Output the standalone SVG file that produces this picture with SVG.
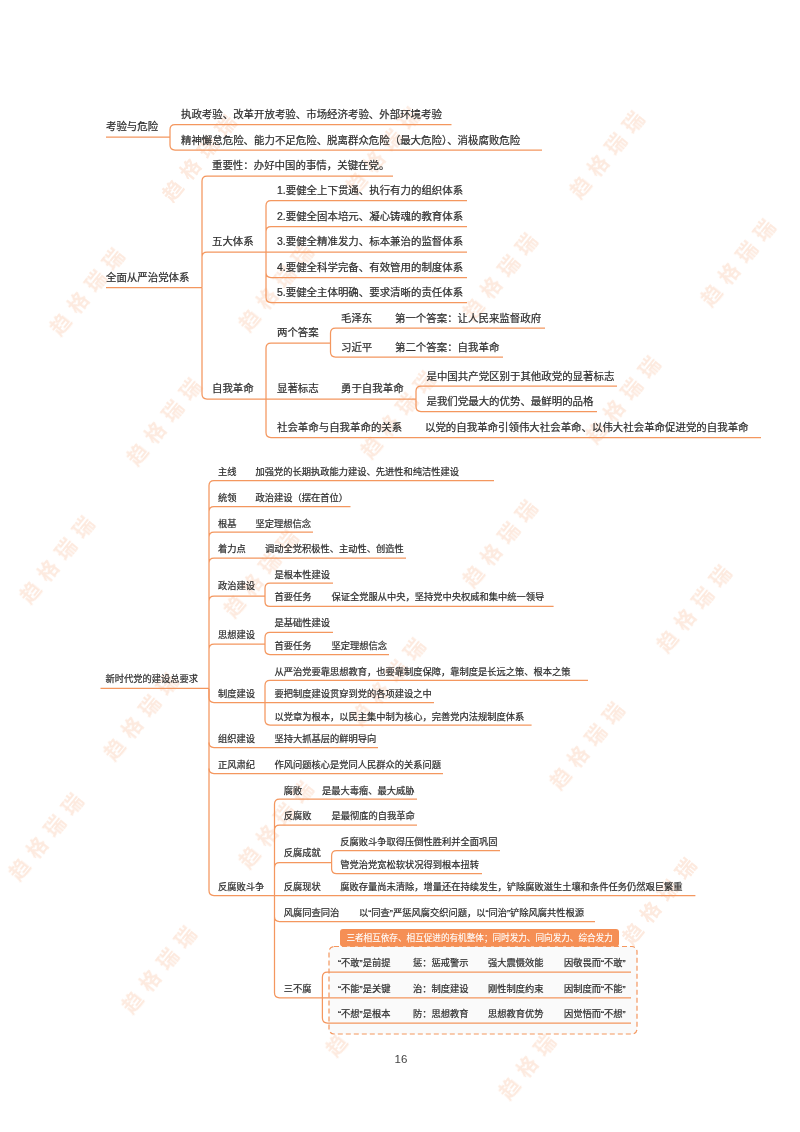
<svg xmlns="http://www.w3.org/2000/svg" width="800" height="1132" viewBox="0 0 800 1132">
<style>
text{font-family:"Liberation Sans","Noto Sans CJK SC",sans-serif;font-size:9.25px;fill:#2e2e2e;stroke:#2e2e2e;stroke-width:.22}
.s1 text{font-size:10.45px}
.c path{fill:none;stroke:#f4975f;stroke-width:1.25}
.w text{font-family:"Noto Sans CJK SC",sans-serif;font-size:20px;letter-spacing:8px;fill:#fdeadf;stroke:none;font-weight:700}
.b{fill:#f58f55}
.d{fill:#fafafa;stroke:#f4975f;stroke-width:1.2;stroke-dasharray:5 3}
</style>
<defs><filter id="soft" filterUnits="userSpaceOnUse" x="0" y="0" width="800" height="1132"><feGaussianBlur stdDeviation="0.3"/></filter></defs>
<rect width="800" height="1132" fill="#fff"/>
<g filter="url(#soft)">
<g id="watermarks" class="w">
<text x="-10" y="7" transform="translate(173,191) rotate(-51)">趋格瑞瑞</text>
<text x="-10" y="7" transform="translate(581,188) rotate(-51)">趋格瑞瑞</text>
<text x="-10" y="7" transform="translate(712,296) rotate(-51)">趋格瑞瑞</text>
<text x="-10" y="7" transform="translate(61,325) rotate(-51)">趋格瑞瑞</text>
<text x="-10" y="7" transform="translate(250,321) rotate(-51)">趋格瑞瑞</text>
<text x="-10" y="7" transform="translate(474,310) rotate(-51)">趋格瑞瑞</text>
<text x="-10" y="7" transform="translate(357,184) rotate(-51)">趋格瑞瑞</text>
<text x="-10" y="7" transform="translate(138,455) rotate(-51)">趋格瑞瑞</text>
<text x="-10" y="7" transform="translate(372,448) rotate(-51)">趋格瑞瑞</text>
<text x="-10" y="7" transform="translate(597,433) rotate(-51)">趋格瑞瑞</text>
<text x="-10" y="7" transform="translate(31,593) rotate(-51)">趋格瑞瑞</text>
<text x="-10" y="7" transform="translate(235,607) rotate(-51)">趋格瑞瑞</text>
<text x="-10" y="7" transform="translate(474,577) rotate(-51)">趋格瑞瑞</text>
<text x="-10" y="7" transform="translate(668,642) rotate(-51)">趋格瑞瑞</text>
<text x="-10" y="7" transform="translate(20,870) rotate(-51)">趋格瑞瑞</text>
<text x="-10" y="7" transform="translate(115,750) rotate(-51)">趋格瑞瑞</text>
<text x="-10" y="7" transform="translate(250,858) rotate(-51)">趋格瑞瑞</text>
<text x="-10" y="7" transform="translate(362,715) rotate(-51)">趋格瑞瑞</text>
<text x="-10" y="7" transform="translate(561,779) rotate(-51)">趋格瑞瑞</text>
<text x="-10" y="7" transform="translate(133,1003) rotate(-51)">趋格瑞瑞</text>
<text x="-10" y="7" transform="translate(337,1046) rotate(-51)">趋格瑞瑞</text>
<text x="-10" y="7" transform="translate(510,1089) rotate(-51)">趋格瑞瑞</text>
<text x="-10" y="7" transform="translate(633,934) rotate(-51)">趋格瑞瑞</text>
</g>
<g id="box-fill"><rect class="d" x="329" y="946.5" width="308" height="87.5" rx="5"/><rect class="b" x="340" y="929" width="279" height="17.5" rx="3"/></g>
<g class="c" id="connectors">
<path d="M106 137H170M170 137V129.5Q170 124.5 175 124.5H451.5M170 137V145Q170 150 175 150H542"/>
<path d="M106 287.5H202M202 287.5V181Q202 176 207 176H393M202 287.5V257Q202 252 207 252H266M266 252V205.5Q266 200.5 271 200.5H467M266 252V231.5Q266 226.5 271 226.5H467M266 252H467M266 252V272.5Q266 277.5 271 277.5H467M266 252V297.5Q266 302.5 271 302.5H467"/>
<path d="M202 287.5V394Q202 399 207 399H416M266 399V348Q266 343 271 343H330.5M266 399V432.5Q266 437.5 271 437.5H761M330.5 343V333Q330.5 328 335.5 328H545M330.5 343V352Q330.5 357 335.5 357H503M416 399V391Q416 386 421 386H617M416 399V406.5Q416 411.5 421 411.5H597"/>
<path d="M100.5 688.4H209M209 688.4V485.5Q209 480.5 214 480.5H494M209 511.5Q209 506.5 214 506.5H350.5M209 537Q209 532 214 532H313M209 563Q209 558 214 558H406M209 601Q209 596 214 596H265M265 596V588Q265 583 270 583H333M265 596V601.4Q265 606.4 270 606.4H553.6M209 649Q209 644 214 644H265M265 644V637.4Q265 632.4 270 632.4H333M265 644V649.5Q265 654.5 270 654.5H389"/>
<path d="M209 688.4V697.5Q209 702.5 214 702.5H265M265 702.5V685.4Q265 680.4 270 680.4H588M265 702.5H434M265 702.5V720Q265 725 270 725H531.6M209 742.6Q209 747.6 214 747.6H378M209 768.6Q209 773.6 214 773.6H443"/>
<path d="M209 688.4V890.6Q209 895.6 214 895.6H695.4M274.5 895.6V804Q274.5 799 279.5 799H417M274.5 830Q274.5 825 279.5 825H417M274.5 867.7Q274.5 862.7 279.5 862.7H331.6M331.6 862.7V855.5Q331.6 850.5 336.6 850.5H500M331.6 862.7V868.6Q331.6 873.6 336.6 873.6H482M274.5 895.6V916.6Q274.5 921.6 279.5 921.6H595M274.5 895.6V992.8Q274.5 997.8 279.5 997.8H322.4M322.4 997.8V977Q322.4 972 327.4 972H631M322.4 997.8H631M322.4 997.8V1018Q322.4 1023 327.4 1023H631"/>
</g>
<g id="n1" class="s1"><text x="106" y="130">考验与危险</text><text x="181" y="118">执政考验、改革开放考验、市场经济考验、外部环境考验</text><text x="181" y="143.5">精神懈怠危险、能力不足危险、脱离群众危险（最大危险）、消极腐败危险</text></g>
<g id="n2" class="s1"><text x="106" y="281">全面从严治党体系</text><text x="212" y="169">重要性：办好中国的事情，关键在党。</text><text x="212" y="245">五大体系</text>
<text x="277" y="194">1.要健全上下贯通、执行有力的组织体系</text><text x="277" y="220">2.要健全固本培元、凝心铸魂的教育体系</text><text x="277" y="245">3.要健全精准发力、标本兼治的监督体系</text><text x="277" y="271">4.要健全科学完备、有效管用的制度体系</text><text x="277" y="296">5.要健全主体明确、要求清晰的责任体系</text></g>
<g id="n3" class="s1"><text x="212" y="392">自我革命</text><text x="277" y="336">两个答案</text><text x="277" y="392">显著标志</text><text x="277" y="431">社会革命与自我革命的关系</text><text x="341" y="322">毛泽东</text><text x="395" y="322">第一个答案：让人民来监督政府</text><text x="341" y="350.5">习近平</text><text x="395" y="350.5">第二个答案：自我革命</text><text x="341" y="392">勇于自我革命</text><text x="426.5" y="380">是中国共产党区别于其他政党的显著标志</text><text x="426.5" y="405">是我们党最大的优势、最鲜明的品格</text><text x="425" y="431">以党的自我革命引领伟大社会革命、以伟大社会革命促进党的自我革命</text></g>
<g id="n4"><text x="105.5" y="682">新时代党的建设总要求</text>
<text x="218" y="475">主线</text><text x="255.6" y="475">加强党的长期执政能力建设、先进性和纯洁性建设</text><text x="218" y="500.5">统领</text><text x="255.6" y="500.5">政治建设（摆在首位）</text><text x="218" y="526.5">根基</text><text x="255.6" y="526.5">坚定理想信念</text><text x="218" y="552">着力点</text><text x="265" y="552">调动全党积极性、主动性、创造性</text>
<text x="218" y="589">政治建设</text><text x="274.5" y="578">是根本性建设</text><text x="274.5" y="600">首要任务</text><text x="331.6" y="600">保证全党服从中央，坚持党中央权威和集中统一领导</text>
<text x="218" y="637.5">思想建设</text><text x="274.5" y="626">是基础性建设</text><text x="274.5" y="648.5">首要任务</text><text x="331.6" y="648.5">坚定理想信念</text>
<text x="218" y="697">制度建设</text><text x="274.5" y="674.5">从严治党要靠思想教育，也要靠制度保障，靠制度是长远之策、根本之策</text><text x="274.5" y="697">要把制度建设贯穿到党的各项建设之中</text><text x="274.5" y="719.7">以党章为根本，以民主集中制为核心，完善党内法规制度体系</text>
<text x="218" y="742">组织建设</text><text x="274.5" y="742">坚持大抓基层的鲜明导向</text><text x="218" y="767.8">正风肃纪</text><text x="274.5" y="767.8">作风问题核心是党同人民群众的关系问题</text></g>
<g id="n5"><text x="218" y="890">反腐败斗争</text><text x="283.7" y="793.5">腐败</text><text x="322" y="793.5">是最大毒瘤、最大威胁</text><text x="283.7" y="819">反腐败</text><text x="331.6" y="819">是最彻底的自我革命</text><text x="283.7" y="855.7">反腐成就</text><text x="340.3" y="845">反腐败斗争取得压倒性胜利并全面巩固</text><text x="340.3" y="867.6">管党治党宽松软状况得到根本扭转</text><text x="283.7" y="890">反腐现状</text><text x="340.3" y="890">腐败存量尚未清除，增量还在持续发生，铲除腐败滋生土壤和条件任务仍然艰巨繁重</text><text x="283.7" y="915.6">风腐同查同治</text><text x="359" y="915.6">以“同查”严惩风腐交织问题，以“同治”铲除风腐共性根源</text><text x="283.7" y="991.6">三不腐</text></g>
<g id="n6"><text x="346.4" y="941.2" style="fill:#fff;stroke:#fff;stroke-width:.1;font-size:8.6px">三者相互依存、相互促进的有机整体；同时发力、同向发力、综合发力</text>
<text x="338" y="965.6">“不敢”是前提</text><text x="413" y="965.6">惩：惩戒警示</text><text x="488" y="965.6">强大震慑效能</text><text x="564" y="965.6">因敬畏而“不敢”</text>
<text x="338" y="991.6">“不能”是关键</text><text x="413" y="991.6">治：制度建设</text><text x="488" y="991.6">刚性制度约束</text><text x="564" y="991.6">因制度而“不能”</text>
<text x="338" y="1017">“不想”是根本</text><text x="413" y="1017">防：思想教育</text><text x="488" y="1017">思想教育优势</text><text x="564" y="1017">因觉悟而“不想”</text></g>
<g id="page"><text x="394.5" y="1063" style="font-size:11.5px;stroke-width:0;fill:#444">16</text></g>
</g>
</svg>
